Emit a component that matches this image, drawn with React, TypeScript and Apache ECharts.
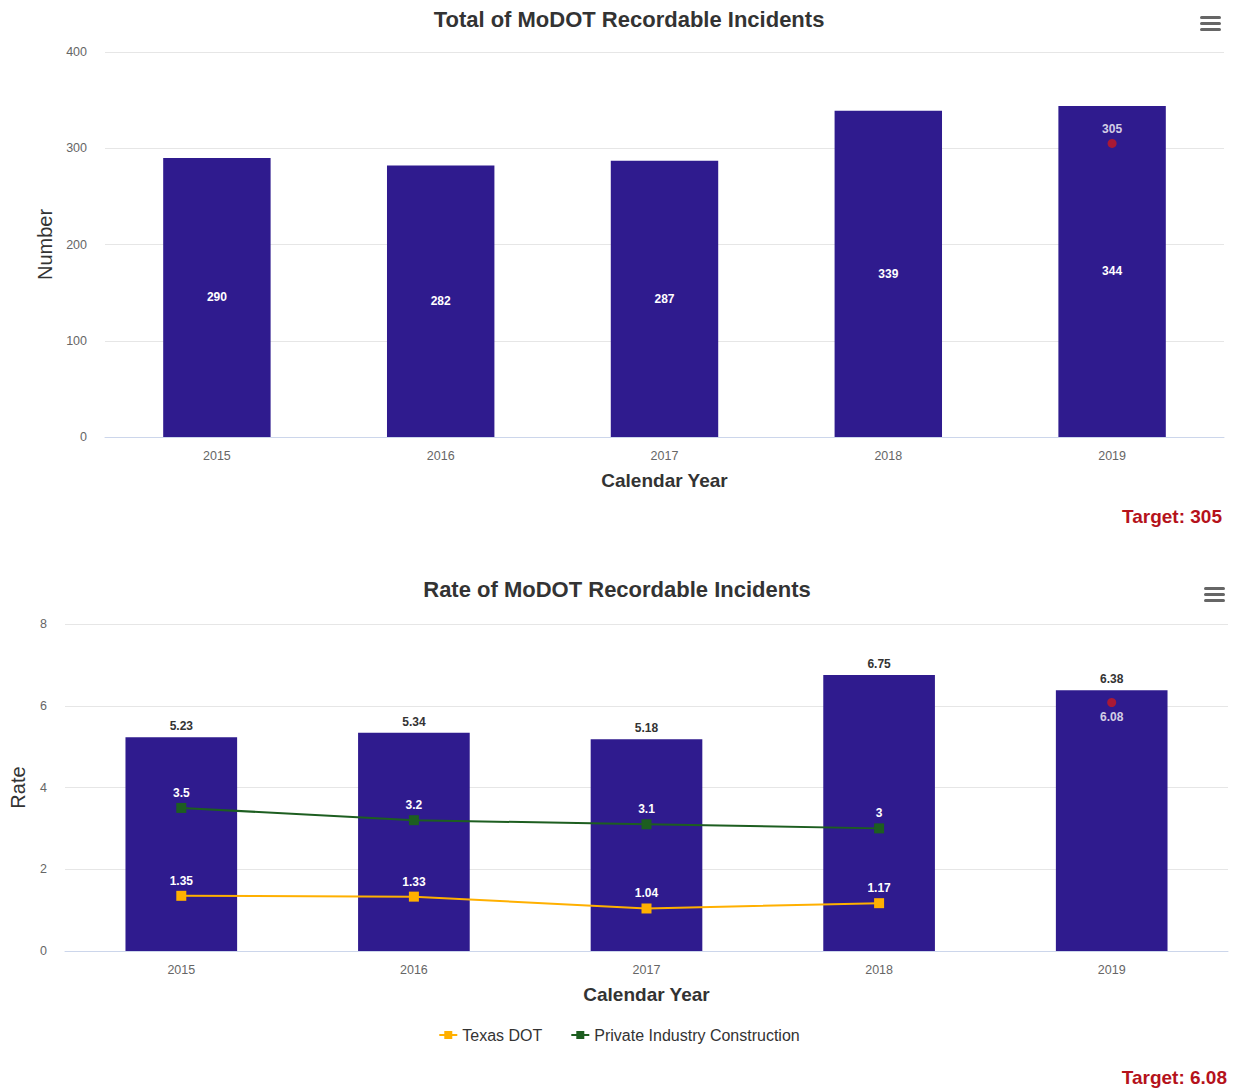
import React, { useEffect, useRef } from "react";
import * as echarts from "echarts";

const years = ["2015", "2016", "2017", "2018", "2019"];
const totalIncidents = [290, 282, 287, 339, 344];
const totalTarget = ["-", "-", "-", "-", 305];
const rateValues = [5.23, 5.34, 5.18, 6.75, 6.38];
const texasDot = [1.35, 1.33, 1.04, 1.17, "-"];
const privateIndustry = [3.5, 3.2, 3.1, 3, "-"];
const rateTarget = ["-", "-", "-", "-", 6.08];
const totalTicks = { min: 0, max: 400, interval: 100 };
const rateTicks = { min: 0, max: 8, interval: 2 };

const BAR = "#2f1b8e";
const FONT = "'Liberation Sans', Arial, Helvetica, sans-serif";
const NARROW = "'Liberation Sans Narrow', 'Arial Narrow', 'Liberation Sans', sans-serif";

function menuIcon(x: number, y: number) {
  return [0, 6, 12].map((d) => ({
    type: "rect",
    shape: { x, y: y + d, width: 21, height: 3, r: 1.5 },
    style: { fill: "#666" },
  }));
}

export default function App() {
  const ref = useRef<HTMLDivElement>(null);
  useEffect(() => {
    document.body.style.margin = "0";
    const chart = echarts.init(ref.current!, undefined, { renderer: "svg" });
    const axisLabel = { color: "#666", fontSize: 12.5, fontFamily: FONT };
    const nameStyle = { color: "#333", fontSize: 19, fontWeight: "bold", fontFamily: FONT };
    const yNameStyle = { color: "#333", fontSize: 20, fontFamily: FONT };
    chart.setOption({
      animation: false,
      textStyle: { fontFamily: FONT },
      title: [
        {
          text: "Total of MoDOT Recordable Incidents",
          left: 624,
          top: 3,
          textAlign: "center",
          textStyle: { fontSize: 22, fontWeight: "bold", color: "#333", fontFamily: FONT },
        },
        {
          text: "Rate of MoDOT Recordable Incidents",
          left: 612,
          top: 573,
          textAlign: "center",
          textStyle: { fontSize: 22, fontWeight: "bold", color: "#333", fontFamily: FONT },
        },
      ],
      legend: {
        data: ["Texas DOT", "Private Industry Construction"],
        left: "center",
        top: 1022,
        itemWidth: 18,
        itemHeight: 10,
        itemGap: 28,
        textStyle: { color: "#333", fontSize: 16, fontFamily: FONT },
      },
      grid: [
        { left: 105, right: 14, top: 52, height: 385 },
        { left: 65, right: 10, top: 624, height: 327 },
      ],
      xAxis: [0, 1].map((i) => ({
        type: "category",
        gridIndex: i,
        data: years,
        axisTick: { show: false },
        axisLine: { lineStyle: { color: "#ccd6eb" } },
        axisLabel: { ...axisLabel, margin: 12 },
        name: "Calendar Year",
        nameLocation: "middle",
        nameGap: 34,
        nameTextStyle: nameStyle,
      })),
      yAxis: [
        {
          type: "value",
          gridIndex: 0,
          ...totalTicks,
          axisLabel: { ...axisLabel, margin: 18 },
          splitLine: { lineStyle: { color: "#e6e6e6" } },
          name: "Number",
          nameLocation: "middle",
          nameGap: 50,
          nameTextStyle: yNameStyle,
        },
        {
          type: "value",
          gridIndex: 1,
          ...rateTicks,
          axisLabel: { ...axisLabel, margin: 18 },
          splitLine: { lineStyle: { color: "#e6e6e6" } },
          name: "Rate",
          nameLocation: "middle",
          nameGap: 37,
          nameTextStyle: yNameStyle,
        },
      ],
      series: [
        {
          type: "bar",
          name: "Total",
          xAxisIndex: 0,
          yAxisIndex: 0,
          data: totalIncidents,
          barWidth: "48%",
          itemStyle: { color: BAR },
          label: {
            show: true,
            position: "inside",
            color: "#fff",
            fontWeight: "bold",
            fontSize: 12,
          },
        },
        {
          type: "scatter",
          name: "Target",
          xAxisIndex: 0,
          yAxisIndex: 0,
          data: totalTarget,
          symbolSize: 9,
          itemStyle: { color: "#c8191f" },
          label: {
            show: true,
            position: "top",
            distance: 4,
            color: "#fff",
            fontWeight: "bold",
            fontSize: 12,
          },
        },
        {
          type: "bar",
          name: "Rate",
          xAxisIndex: 1,
          yAxisIndex: 1,
          data: rateValues,
          barWidth: "48%",
          itemStyle: { color: BAR },
          label: {
            show: true,
            position: "top",
            distance: 5,
            color: "#333",
            fontWeight: "bold",
            fontSize: 12,
          },
        },
        {
          type: "line",
          name: "Texas DOT",
          xAxisIndex: 1,
          yAxisIndex: 1,
          data: texasDot,
          symbol: "rect",
          symbolSize: 10,
          color: "#ffb000",
          lineStyle: { width: 2, color: "#ffb000" },
          itemStyle: { color: "#ffb000" },
          z: 5,
          label: {
            show: true,
            position: "top",
            distance: 4,
            color: "#fff",
            fontWeight: "bold",
            fontSize: 12,
          },
        },
        {
          type: "line",
          name: "Private Industry Construction",
          xAxisIndex: 1,
          yAxisIndex: 1,
          data: privateIndustry,
          symbol: "rect",
          symbolSize: 10,
          color: "#1d5e20",
          lineStyle: { width: 2, color: "#1d5e20" },
          itemStyle: { color: "#1d5e20" },
          z: 5,
          label: {
            show: true,
            position: "top",
            distance: 4,
            color: "#fff",
            fontWeight: "bold",
            fontSize: 12,
          },
        },
        {
          type: "scatter",
          name: "Rate Target",
          xAxisIndex: 1,
          yAxisIndex: 1,
          data: rateTarget,
          symbolSize: 9,
          itemStyle: { color: "#c8191f" },
          z: 6,
          label: {
            show: true,
            position: "bottom",
            distance: 4,
            color: "#fff",
            fontWeight: "bold",
            fontSize: 12,
          },
        },
      ],
      graphic: [
        ...menuIcon(1200, 16),
        ...menuIcon(1204, 587),
        {
          type: "text",
          right: 16,
          top: 507,
          style: {
            text: "Target: 305",
            fill: "#b5121b",
            font: `bold 19px ${NARROW}`,
          },
        },
        {
          type: "text",
          right: 11,
          top: 1068,
          style: {
            text: "Target: 6.08",
            fill: "#b5121b",
            font: `bold 19px ${NARROW}`,
          },
        },
      ],
    });
    return () => chart.dispose();
  }, []);
  return (
    <div
      ref={ref}
      style={{ position: "absolute", left: 0, top: 0, width: 1238, height: 1090, background: "#fff" }}
    />
  );
}
